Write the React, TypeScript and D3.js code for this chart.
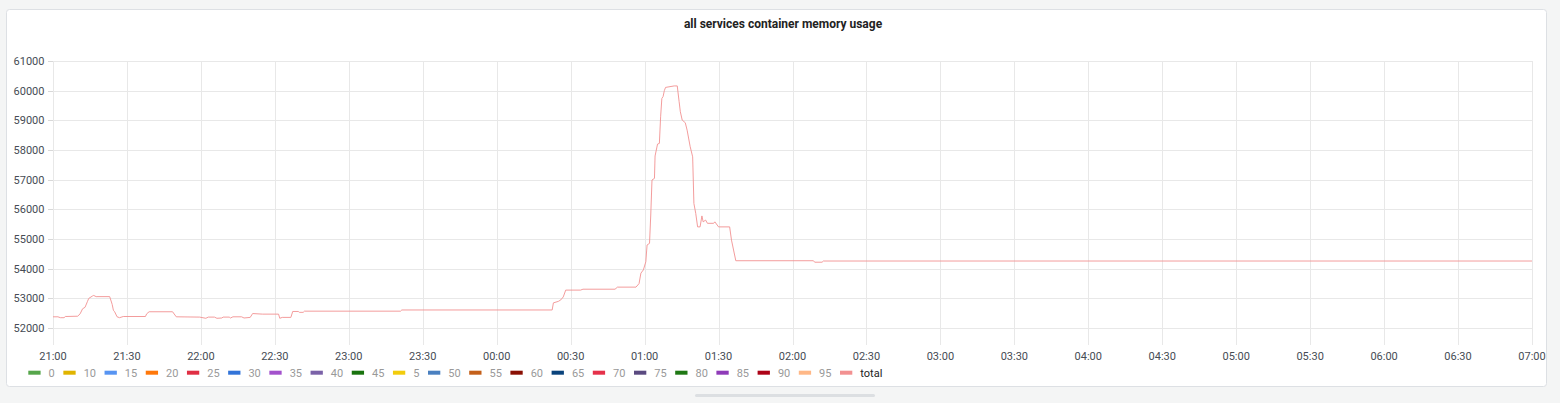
import * as d3 from "d3"

// total memory usage samples (MB)
const times = [
  "21:00:00", "21:02:00", "21:03:00", "21:04:30", "21:05:00", "21:10:00", "21:11:00", "21:12:00",
  "21:13:00", "21:14:00", "21:14:30", "21:16:00", "21:16:30", "21:17:30", "21:23:00", "21:24:00",
  "21:24:30", "21:25:00", "21:26:00", "21:27:00", "21:28:30", "21:37:30", "21:38:00", "21:39:00",
  "21:48:30", "21:50:00", "21:59:30", "22:02:00", "22:03:00", "22:05:30", "22:06:30", "22:08:30",
  "22:09:00", "22:11:30", "22:12:00", "22:13:00", "22:16:30", "22:17:30", "22:20:00", "22:21:00",
  "22:25:00", "22:31:30", "22:32:00", "22:33:00", "22:36:30", "22:37:15", "22:39:30", "22:40:00",
  "22:41:30", "22:42:00", "23:21:00", "23:21:30", "00:22:30", "00:23:00", "00:25:00", "00:26:00",
  "00:27:00", "00:28:00", "00:34:00", "00:35:00", "00:48:00", "00:49:00", "00:56:30", "00:57:45",
  "00:58:30", "00:59:30", "01:00:30", "01:01:00", "01:02:00", "01:02:30", "01:03:00", "01:04:00",
  "01:04:15", "01:05:15", "01:06:00", "01:06:30", "01:07:00", "01:07:30", "01:08:00", "01:08:30",
  "01:12:00", "01:13:15", "01:14:00", "01:14:30", "01:15:15", "01:16:30", "01:17:15", "01:18:30",
  "01:19:30", "01:20:00", "01:20:45", "01:21:30", "01:22:30", "01:23:15", "01:23:45", "01:24:45",
  "01:25:30", "01:28:00", "01:28:30", "01:30:00", "01:34:30", "01:35:15", "01:37:00", "02:08:30",
  "02:09:00", "02:12:00", "02:12:30", "07:00:00",
]

const total = [
  52380, 52380, 52350, 52350, 52390, 52400, 52480, 52650,
  52700, 52900, 53000, 53080, 53100, 53060, 53060, 52800,
  52600, 52550, 52380, 52350, 52390, 52390, 52480, 52550,
  52550, 52380, 52370, 52330, 52370, 52370, 52330, 52340,
  52370, 52370, 52340, 52380, 52380, 52340, 52360, 52490,
  52470, 52470, 52330, 52360, 52360, 52560, 52560, 52530,
  52530, 52570, 52570, 52610, 52610, 52850, 52900, 52950,
  53050, 53280, 53280, 53310, 53310, 53380, 53380, 53500,
  53850, 53960, 54235, 54800, 54855, 55810, 56990, 57045,
  57800, 58200, 58225, 59120, 59740, 59800, 60000, 60110,
  60160, 60160, 59630, 59290, 59010, 58920, 58670, 58110,
  57770, 56200, 55865, 55410, 55410, 55780, 55580, 55640,
  55530, 55530, 55580, 55410, 55410, 54965, 54270, 54270,
  54220, 54220, 54260, 54260,
]

const yTicks = [52000, 53000, 54000, 55000, 56000, 57000, 58000, 59000, 60000, 61000]

const seriesNames = [
  "0", "10", "15", "20", "25", "30", "35", "40", "45", "5", "50",
  "55", "60", "65", "70", "75", "80", "85", "90", "95", "total",
]
const seriesColors = [
  "#56A64B", "#E0B400", "#5794F2", "#FF780A", "#E02F44", "#3274D9", "#A352CC", "#7B62A8",
  "#19730E", "#F2CC0C", "#4A80C0", "#C4601A", "#8A1004", "#0A437C", "#E5314A", "#5A4A80",
  "#1F7814", "#8F3BB8", "#AD0317", "#FFB887", "#F29191",
]

const title = "all services container memory usage"

const parseTime = d3.timeParse("%Y-%m-%d %H:%M:%S")
const toDate = (t: string) => {
  const h = +t.slice(0, 2)
  return parseTime(`${h >= 21 ? "2023-01-01" : "2023-01-02"} ${t}`) as Date
}

export default function App() {
  const W = 1560
  const H = 403
  const plot = { left: 53, right: 1532, top: 61, bottom: 345 }
  const font = "Roboto, 'Noto Sans', sans-serif"

  const x = d3
    .scaleTime()
    .domain([toDate("21:00:00"), toDate("07:00:00")])
    .range([plot.left, plot.right])

  const y = d3.scaleLinear().domain([51430, 61000]).range([plot.bottom, plot.top])

  const xTicks = d3.timeMinute.every(30)!.range(x.domain()[0], d3.timeSecond.offset(x.domain()[1], 1))
  const fmt = d3.timeFormat("%H:%M")

  const points = times.map((t, i) => ({ t: toDate(t), v: total[i] }))
  const line = d3
    .line<{ t: Date; v: number }>()
    .x((d) => x(d.t))
    .y((d) => y(d.v))

  // legend layout: swatch, gap, label, gap
  let cursor = 28.3
  const legend = seriesNames.map((name, i) => {
    const item = { name, color: seriesColors[i], x: cursor }
    cursor += 12.3 + 8 + name.length * 6.15 + 8.6
    return item
  })

  return (
    <div style={{ position: "fixed", left: 0, top: 0, width: W, height: H, background: "#f4f5f5" }}>
      <svg width={W} height={H} style={{ display: "block", fontFamily: font }}>
        <rect x={0} y={0} width={W} height={H} fill="#f4f5f5" />
        <rect x={6.5} y={9.5} width={1540} height={377} rx={3} fill="#ffffff" stroke="#dde0e4" />
        <rect x={695} y={394} width={180} height={3} rx={1.5} fill="#dcdfe2" />

        <text x={783} y={28} textAnchor="middle" fontSize={12} fontWeight="bold" fill="#222">
          {title}
        </text>

        {/* grid */}
        <g stroke="#e8e8e8" strokeWidth={1}>
          {yTicks.map((v) => (
            <line key={v} x1={plot.left} x2={plot.right} y1={Math.round(y(v)) + 0.5} y2={Math.round(y(v)) + 0.5} />
          ))}
          {xTicks.map((d) => (
            <line key={+d} x1={Math.round(x(d)) + 0.5} x2={Math.round(x(d)) + 0.5} y1={plot.top} y2={plot.bottom} />
          ))}
        </g>

        {/* y axis */}
        <g fontSize={11} fill="#464c54" textAnchor="end">
          {yTicks.map((v) => (
            <g key={v}>
              <line x1={48} x2={plot.left} y1={Math.round(y(v)) + 0.5} y2={Math.round(y(v)) + 0.5} stroke="#d8d8d8" />
              <text x={44.5} y={y(v)} dy="0.35em">
                {v}
              </text>
            </g>
          ))}
        </g>

        {/* x axis */}
        <g fontSize={11} fill="#464c54" textAnchor="middle">
          {xTicks.map((d) => (
            <text key={+d} x={x(d)} y={356} dy="0.35em">
              {fmt(d)}
            </text>
          ))}
        </g>

        <path d={line(points) ?? ""} fill="none" stroke="#F29191" strokeOpacity={0.9} strokeWidth={1} strokeLinejoin="round" />

        {/* legend */}
        <g fontSize={11}>
          {legend.map((l) => (
            <g key={l.name}>
              <rect x={l.x} y={370.7} width={12.3} height={4} fill={l.color} />
              <text x={l.x + 20.3} y={372.7} dy="0.35em" fill={l.name === "total" ? "#222" : "#999999"}>
                {l.name}
              </text>
            </g>
          ))}
        </g>
      </svg>
    </div>
  )
}
